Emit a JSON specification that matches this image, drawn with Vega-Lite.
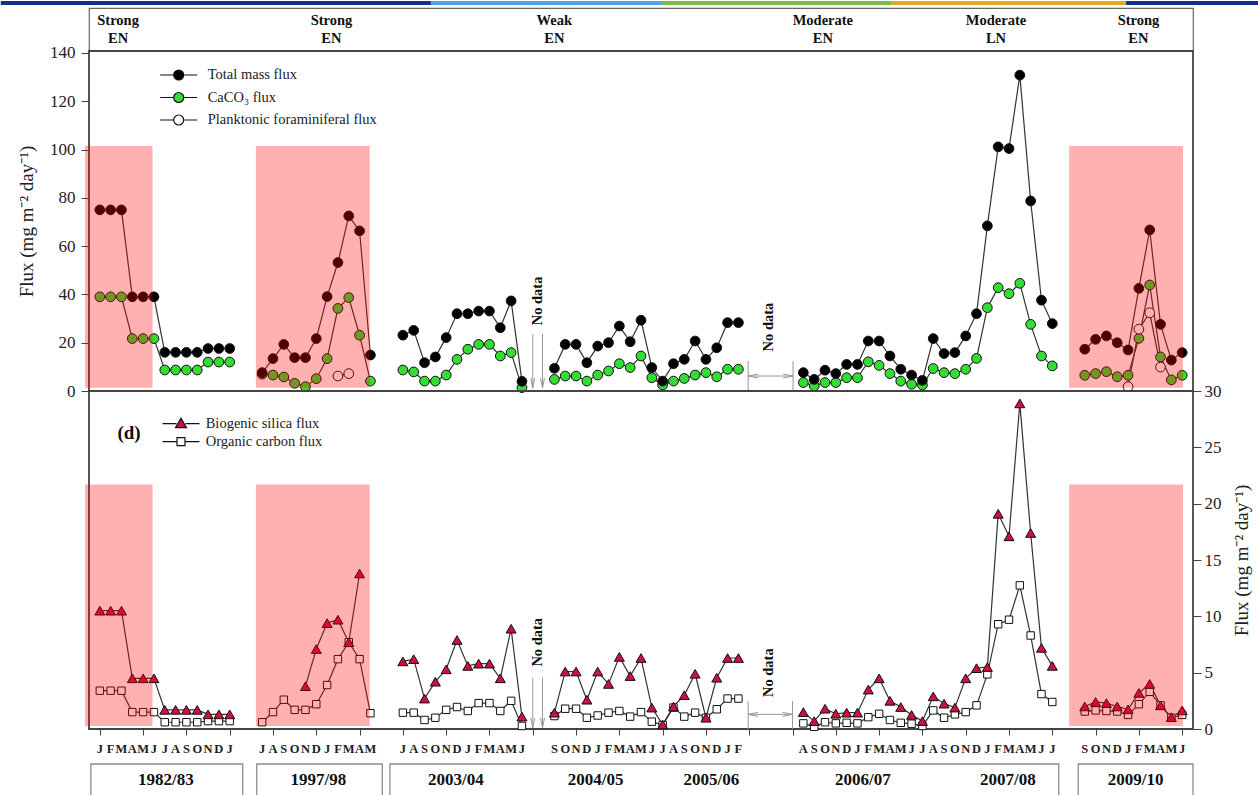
{
 "$schema": "https://vega.github.io/schema/vega-lite/v6.json",
 "background": "white",
 "padding": {"left": 0, "top": 0, "right": 0, "bottom": 0},
 "spacing": 0,
 "bounds": "flush",
 "resolve": {"scale": {"fill": "independent", "shape": "independent", "size": "independent", "color": "independent"}, "legend": {"fill": "independent", "shape": "independent", "size": "independent", "color": "independent"}},
 "config": {"view": {"stroke": null}, "font": "Liberation Serif"},
 "datasets": {
  "top": [
   {"s":"CaCO₃ flux","x":0,"v":39,"g":1},{"s":"CaCO₃ flux","x":1,"v":39,"g":1},{"s":"CaCO₃ flux","x":2,"v":39,"g":1},{"s":"CaCO₃ flux","x":3,"v":21.7,"g":1},{"s":"CaCO₃ flux","x":4,"v":21.7,"g":1},{"s":"CaCO₃ flux","x":5,"v":21.7,"g":1},{"s":"CaCO₃ flux","x":6,"v":8.7,"g":1},{"s":"CaCO₃ flux","x":7,"v":8.7,"g":1},{"s":"CaCO₃ flux","x":8,"v":8.7,"g":1},{"s":"CaCO₃ flux","x":9,"v":8.7,"g":1},{"s":"CaCO₃ flux","x":10,"v":12,"g":1},{"s":"CaCO₃ flux","x":11,"v":12,"g":1},{"s":"CaCO₃ flux","x":12,"v":12,"g":1},
   {"s":"CaCO₃ flux","x":15,"v":7.0,"g":2},{"s":"CaCO₃ flux","x":16,"v":6.6,"g":2},{"s":"CaCO₃ flux","x":17,"v":5.8,"g":2},{"s":"CaCO₃ flux","x":18,"v":3.2,"g":2},{"s":"CaCO₃ flux","x":19,"v":1.8,"g":2},{"s":"CaCO₃ flux","x":20,"v":5.1,"g":2},{"s":"CaCO₃ flux","x":21,"v":13.4,"g":2},{"s":"CaCO₃ flux","x":22,"v":34.2,"g":2},{"s":"CaCO₃ flux","x":23,"v":38.7,"g":2},{"s":"CaCO₃ flux","x":24,"v":23.1,"g":2},{"s":"CaCO₃ flux","x":25,"v":4.1,"g":2},
   {"s":"CaCO₃ flux","x":28,"v":8.7,"g":3},{"s":"CaCO₃ flux","x":29,"v":7.9,"g":3},{"s":"CaCO₃ flux","x":30,"v":4.1,"g":3},{"s":"CaCO₃ flux","x":31,"v":4.1,"g":3},{"s":"CaCO₃ flux","x":32,"v":6.6,"g":3},{"s":"CaCO₃ flux","x":33,"v":13.1,"g":3},{"s":"CaCO₃ flux","x":34,"v":17.3,"g":3},{"s":"CaCO₃ flux","x":35,"v":19.3,"g":3},{"s":"CaCO₃ flux","x":36,"v":19.3,"g":3},{"s":"CaCO₃ flux","x":37,"v":14.5,"g":3},{"s":"CaCO₃ flux","x":38,"v":15.9,"g":3},{"s":"CaCO₃ flux","x":39,"v":1.4,"g":3},
   {"s":"CaCO₃ flux","x":42,"v":4.8,"g":4},{"s":"CaCO₃ flux","x":43,"v":6.2,"g":4},{"s":"CaCO₃ flux","x":44,"v":6.2,"g":4},{"s":"CaCO₃ flux","x":45,"v":4.1,"g":4},{"s":"CaCO₃ flux","x":46,"v":6.6,"g":4},{"s":"CaCO₃ flux","x":47,"v":8.3,"g":4},{"s":"CaCO₃ flux","x":48,"v":11.3,"g":4},{"s":"CaCO₃ flux","x":49,"v":9.7,"g":4},{"s":"CaCO₃ flux","x":50,"v":14.5,"g":4},{"s":"CaCO₃ flux","x":51,"v":5.5,"g":4},{"s":"CaCO₃ flux","x":52,"v":2.5,"g":4},{"s":"CaCO₃ flux","x":53,"v":4.1,"g":4},{"s":"CaCO₃ flux","x":54,"v":5.2,"g":4},{"s":"CaCO₃ flux","x":55,"v":6.6,"g":4},{"s":"CaCO₃ flux","x":56,"v":7.6,"g":4},{"s":"CaCO₃ flux","x":57,"v":5.9,"g":4},{"s":"CaCO₃ flux","x":58,"v":9.0,"g":4},{"s":"CaCO₃ flux","x":59,"v":9.0,"g":4},
   {"s":"CaCO₃ flux","x":65,"v":3.5,"g":5},{"s":"CaCO₃ flux","x":66,"v":2.1,"g":5},{"s":"CaCO₃ flux","x":67,"v":3.5,"g":5},{"s":"CaCO₃ flux","x":68,"v":3.5,"g":5},{"s":"CaCO₃ flux","x":69,"v":5.5,"g":5},{"s":"CaCO₃ flux","x":70,"v":5.5,"g":5},{"s":"CaCO₃ flux","x":71,"v":12.1,"g":5},{"s":"CaCO₃ flux","x":72,"v":10.6,"g":5},{"s":"CaCO₃ flux","x":73,"v":7.2,"g":5},{"s":"CaCO₃ flux","x":74,"v":4.1,"g":5},{"s":"CaCO₃ flux","x":75,"v":2.8,"g":5},{"s":"CaCO₃ flux","x":76,"v":2.5,"g":5},{"s":"CaCO₃ flux","x":77,"v":9.3,"g":5},{"s":"CaCO₃ flux","x":78,"v":7.6,"g":5},{"s":"CaCO₃ flux","x":79,"v":7.2,"g":5},{"s":"CaCO₃ flux","x":80,"v":9.0,"g":5},{"s":"CaCO₃ flux","x":81,"v":13.5,"g":5},{"s":"CaCO₃ flux","x":82,"v":34.5,"g":5},{"s":"CaCO₃ flux","x":83,"v":42.8,"g":5},{"s":"CaCO₃ flux","x":84,"v":40.3,"g":5},{"s":"CaCO₃ flux","x":85,"v":44.6,"g":5},{"s":"CaCO₃ flux","x":86,"v":27.6,"g":5},{"s":"CaCO₃ flux","x":87,"v":14.5,"g":5},{"s":"CaCO₃ flux","x":88,"v":10.4,"g":5},
   {"s":"CaCO₃ flux","x":91,"v":6.5,"g":6},{"s":"CaCO₃ flux","x":92,"v":7.2,"g":6},{"s":"CaCO₃ flux","x":93,"v":8.0,"g":6},{"s":"CaCO₃ flux","x":94,"v":5.9,"g":6},{"s":"CaCO₃ flux","x":95,"v":6.5,"g":6},{"s":"CaCO₃ flux","x":96,"v":21.8,"g":6},{"s":"CaCO₃ flux","x":97,"v":43.9,"g":6},{"s":"CaCO₃ flux","x":98,"v":14.1,"g":6},{"s":"CaCO₃ flux","x":99,"v":4.6,"g":6},{"s":"CaCO₃ flux","x":100,"v":6.5,"g":6},
   {"s":"Total mass flux","x":0,"v":75,"g":1},{"s":"Total mass flux","x":1,"v":75,"g":1},{"s":"Total mass flux","x":2,"v":75,"g":1},{"s":"Total mass flux","x":3,"v":39,"g":1},{"s":"Total mass flux","x":4,"v":39,"g":1},{"s":"Total mass flux","x":5,"v":39,"g":1},{"s":"Total mass flux","x":6,"v":16,"g":1},{"s":"Total mass flux","x":7,"v":16,"g":1},{"s":"Total mass flux","x":8,"v":16,"g":1},{"s":"Total mass flux","x":9,"v":16,"g":1},{"s":"Total mass flux","x":10,"v":17.6,"g":1},{"s":"Total mass flux","x":11,"v":17.6,"g":1},{"s":"Total mass flux","x":12,"v":17.6,"g":1},
   {"s":"Total mass flux","x":15,"v":7.6,"g":2},{"s":"Total mass flux","x":16,"v":13.4,"g":2},{"s":"Total mass flux","x":17,"v":19.3,"g":2},{"s":"Total mass flux","x":18,"v":13.8,"g":2},{"s":"Total mass flux","x":19,"v":13.8,"g":2},{"s":"Total mass flux","x":20,"v":21.7,"g":2},{"s":"Total mass flux","x":21,"v":39.1,"g":2},{"s":"Total mass flux","x":22,"v":53.2,"g":2},{"s":"Total mass flux","x":23,"v":72.5,"g":2},{"s":"Total mass flux","x":24,"v":66.3,"g":2},{"s":"Total mass flux","x":25,"v":14.9,"g":2},
   {"s":"Total mass flux","x":28,"v":23.1,"g":3},{"s":"Total mass flux","x":29,"v":25.1,"g":3},{"s":"Total mass flux","x":30,"v":11.7,"g":3},{"s":"Total mass flux","x":31,"v":14.1,"g":3},{"s":"Total mass flux","x":32,"v":22.1,"g":3},{"s":"Total mass flux","x":33,"v":32,"g":3},{"s":"Total mass flux","x":34,"v":32,"g":3},{"s":"Total mass flux","x":35,"v":33.1,"g":3},{"s":"Total mass flux","x":36,"v":33.1,"g":3},{"s":"Total mass flux","x":37,"v":26.2,"g":3},{"s":"Total mass flux","x":38,"v":37.3,"g":3},{"s":"Total mass flux","x":39,"v":4.0,"g":3},
   {"s":"Total mass flux","x":42,"v":9.4,"g":4},{"s":"Total mass flux","x":43,"v":19.3,"g":4},{"s":"Total mass flux","x":44,"v":19.3,"g":4},{"s":"Total mass flux","x":45,"v":11.7,"g":4},{"s":"Total mass flux","x":46,"v":18.6,"g":4},{"s":"Total mass flux","x":47,"v":20,"g":4},{"s":"Total mass flux","x":48,"v":26.9,"g":4},{"s":"Total mass flux","x":49,"v":20.4,"g":4},{"s":"Total mass flux","x":50,"v":29.3,"g":4},{"s":"Total mass flux","x":51,"v":9.7,"g":4},{"s":"Total mass flux","x":52,"v":4.1,"g":4},{"s":"Total mass flux","x":53,"v":11.3,"g":4},{"s":"Total mass flux","x":54,"v":13.1,"g":4},{"s":"Total mass flux","x":55,"v":20.7,"g":4},{"s":"Total mass flux","x":56,"v":13.1,"g":4},{"s":"Total mass flux","x":57,"v":17.9,"g":4},{"s":"Total mass flux","x":58,"v":28.3,"g":4},{"s":"Total mass flux","x":59,"v":28.3,"g":4},
   {"s":"Total mass flux","x":65,"v":7.6,"g":5},{"s":"Total mass flux","x":66,"v":4.8,"g":5},{"s":"Total mass flux","x":67,"v":8.6,"g":5},{"s":"Total mass flux","x":68,"v":7.2,"g":5},{"s":"Total mass flux","x":69,"v":11,"g":5},{"s":"Total mass flux","x":70,"v":11,"g":5},{"s":"Total mass flux","x":71,"v":20.7,"g":5},{"s":"Total mass flux","x":72,"v":20.7,"g":5},{"s":"Total mass flux","x":73,"v":14.5,"g":5},{"s":"Total mass flux","x":74,"v":9,"g":5},{"s":"Total mass flux","x":75,"v":6.6,"g":5},{"s":"Total mass flux","x":76,"v":4.4,"g":5},{"s":"Total mass flux","x":77,"v":21.7,"g":5},{"s":"Total mass flux","x":78,"v":15.5,"g":5},{"s":"Total mass flux","x":79,"v":15.9,"g":5},{"s":"Total mass flux","x":80,"v":22.8,"g":5},{"s":"Total mass flux","x":81,"v":32,"g":5},{"s":"Total mass flux","x":82,"v":68.4,"g":5},{"s":"Total mass flux","x":83,"v":101.1,"g":5},{"s":"Total mass flux","x":84,"v":100.4,"g":5},{"s":"Total mass flux","x":85,"v":130.8,"g":5},{"s":"Total mass flux","x":86,"v":78.7,"g":5},{"s":"Total mass flux","x":87,"v":37.6,"g":5},{"s":"Total mass flux","x":88,"v":27.9,"g":5},
   {"s":"Total mass flux","x":91,"v":17.3,"g":6},{"s":"Total mass flux","x":92,"v":21.4,"g":6},{"s":"Total mass flux","x":93,"v":22.8,"g":6},{"s":"Total mass flux","x":94,"v":20,"g":6},{"s":"Total mass flux","x":95,"v":17,"g":6},{"s":"Total mass flux","x":96,"v":42.5,"g":6},{"s":"Total mass flux","x":97,"v":66.7,"g":6},{"s":"Total mass flux","x":98,"v":27.6,"g":6},{"s":"Total mass flux","x":99,"v":12.8,"g":6},{"s":"Total mass flux","x":100,"v":15.9,"g":6},
   {"s":"Planktonic foraminiferal flux","x":22,"v":6.2,"g":2},{"s":"Planktonic foraminiferal flux","x":23,"v":7.2,"g":2},
   {"s":"Planktonic foraminiferal flux","x":95,"v":1.8,"g":6},{"s":"Planktonic foraminiferal flux","x":96,"v":25.6,"g":6},{"s":"Planktonic foraminiferal flux","x":97,"v":32.4,"g":6},{"s":"Planktonic foraminiferal flux","x":98,"v":9.9,"g":6}
  ],
  "bot": [
   {"s":"Organic carbon flux","x":0,"v":3.4,"g":1},{"s":"Organic carbon flux","x":1,"v":3.4,"g":1},{"s":"Organic carbon flux","x":2,"v":3.4,"g":1},{"s":"Organic carbon flux","x":3,"v":1.5,"g":1},{"s":"Organic carbon flux","x":4,"v":1.5,"g":1},{"s":"Organic carbon flux","x":5,"v":1.5,"g":1},{"s":"Organic carbon flux","x":6,"v":0.6,"g":1},{"s":"Organic carbon flux","x":7,"v":0.6,"g":1},{"s":"Organic carbon flux","x":8,"v":0.6,"g":1},{"s":"Organic carbon flux","x":9,"v":0.6,"g":1},{"s":"Organic carbon flux","x":10,"v":0.7,"g":1},{"s":"Organic carbon flux","x":11,"v":0.7,"g":1},{"s":"Organic carbon flux","x":12,"v":0.7,"g":1},
   {"s":"Organic carbon flux","x":15,"v":0.6,"g":2},{"s":"Organic carbon flux","x":16,"v":1.5,"g":2},{"s":"Organic carbon flux","x":17,"v":2.6,"g":2},{"s":"Organic carbon flux","x":18,"v":1.7,"g":2},{"s":"Organic carbon flux","x":19,"v":1.7,"g":2},{"s":"Organic carbon flux","x":20,"v":2.2,"g":2},{"s":"Organic carbon flux","x":21,"v":3.9,"g":2},{"s":"Organic carbon flux","x":22,"v":6.2,"g":2},{"s":"Organic carbon flux","x":23,"v":7.7,"g":2},{"s":"Organic carbon flux","x":24,"v":6.2,"g":2},{"s":"Organic carbon flux","x":25,"v":1.4,"g":2},
   {"s":"Organic carbon flux","x":28,"v":1.45,"g":3},{"s":"Organic carbon flux","x":29,"v":1.45,"g":3},{"s":"Organic carbon flux","x":30,"v":0.8,"g":3},{"s":"Organic carbon flux","x":31,"v":1.0,"g":3},{"s":"Organic carbon flux","x":32,"v":1.7,"g":3},{"s":"Organic carbon flux","x":33,"v":1.95,"g":3},{"s":"Organic carbon flux","x":34,"v":1.6,"g":3},{"s":"Organic carbon flux","x":35,"v":2.3,"g":3},{"s":"Organic carbon flux","x":36,"v":2.3,"g":3},{"s":"Organic carbon flux","x":37,"v":1.6,"g":3},{"s":"Organic carbon flux","x":38,"v":2.5,"g":3},{"s":"Organic carbon flux","x":39,"v":0.27,"g":3},
   {"s":"Organic carbon flux","x":42,"v":1.15,"g":4},{"s":"Organic carbon flux","x":43,"v":1.8,"g":4},{"s":"Organic carbon flux","x":44,"v":1.8,"g":4},{"s":"Organic carbon flux","x":45,"v":1.0,"g":4},{"s":"Organic carbon flux","x":46,"v":1.2,"g":4},{"s":"Organic carbon flux","x":47,"v":1.45,"g":4},{"s":"Organic carbon flux","x":48,"v":1.6,"g":4},{"s":"Organic carbon flux","x":49,"v":1.1,"g":4},{"s":"Organic carbon flux","x":50,"v":1.5,"g":4},{"s":"Organic carbon flux","x":51,"v":0.65,"g":4},{"s":"Organic carbon flux","x":52,"v":0.35,"g":4},{"s":"Organic carbon flux","x":53,"v":1.9,"g":4},{"s":"Organic carbon flux","x":54,"v":1.1,"g":4},{"s":"Organic carbon flux","x":55,"v":1.45,"g":4},{"s":"Organic carbon flux","x":56,"v":1.0,"g":4},{"s":"Organic carbon flux","x":57,"v":1.75,"g":4},{"s":"Organic carbon flux","x":58,"v":2.7,"g":4},{"s":"Organic carbon flux","x":59,"v":2.7,"g":4},
   {"s":"Organic carbon flux","x":65,"v":0.5,"g":5},{"s":"Organic carbon flux","x":66,"v":0.2,"g":5},{"s":"Organic carbon flux","x":67,"v":0.6,"g":5},{"s":"Organic carbon flux","x":68,"v":0.5,"g":5},{"s":"Organic carbon flux","x":69,"v":0.55,"g":5},{"s":"Organic carbon flux","x":70,"v":0.5,"g":5},{"s":"Organic carbon flux","x":71,"v":1.05,"g":5},{"s":"Organic carbon flux","x":72,"v":1.35,"g":5},{"s":"Organic carbon flux","x":73,"v":0.8,"g":5},{"s":"Organic carbon flux","x":74,"v":0.55,"g":5},{"s":"Organic carbon flux","x":75,"v":0.47,"g":5},{"s":"Organic carbon flux","x":76,"v":0.27,"g":5},{"s":"Organic carbon flux","x":77,"v":1.65,"g":5},{"s":"Organic carbon flux","x":78,"v":1.0,"g":5},{"s":"Organic carbon flux","x":79,"v":1.3,"g":5},{"s":"Organic carbon flux","x":80,"v":1.5,"g":5},{"s":"Organic carbon flux","x":81,"v":2.1,"g":5},{"s":"Organic carbon flux","x":82,"v":4.85,"g":5},{"s":"Organic carbon flux","x":83,"v":9.3,"g":5},{"s":"Organic carbon flux","x":84,"v":9.7,"g":5},{"s":"Organic carbon flux","x":85,"v":12.75,"g":5},{"s":"Organic carbon flux","x":86,"v":8.3,"g":5},{"s":"Organic carbon flux","x":87,"v":3.1,"g":5},{"s":"Organic carbon flux","x":88,"v":2.4,"g":5},
   {"s":"Organic carbon flux","x":91,"v":1.55,"g":6},{"s":"Organic carbon flux","x":92,"v":1.65,"g":6},{"s":"Organic carbon flux","x":93,"v":1.6,"g":6},{"s":"Organic carbon flux","x":94,"v":1.55,"g":6},{"s":"Organic carbon flux","x":95,"v":1.25,"g":6},{"s":"Organic carbon flux","x":96,"v":2.2,"g":6},{"s":"Organic carbon flux","x":97,"v":3.3,"g":6},{"s":"Organic carbon flux","x":98,"v":2.1,"g":6},{"s":"Organic carbon flux","x":99,"v":1.0,"g":6},{"s":"Organic carbon flux","x":100,"v":1.25,"g":6},
   {"s":"Biogenic silica flux","x":0,"v":10.5,"g":1},{"s":"Biogenic silica flux","x":1,"v":10.5,"g":1},{"s":"Biogenic silica flux","x":2,"v":10.5,"g":1},{"s":"Biogenic silica flux","x":3,"v":4.5,"g":1},{"s":"Biogenic silica flux","x":4,"v":4.5,"g":1},{"s":"Biogenic silica flux","x":5,"v":4.5,"g":1},{"s":"Biogenic silica flux","x":6,"v":1.7,"g":1},{"s":"Biogenic silica flux","x":7,"v":1.7,"g":1},{"s":"Biogenic silica flux","x":8,"v":1.7,"g":1},{"s":"Biogenic silica flux","x":9,"v":1.7,"g":1},{"s":"Biogenic silica flux","x":10,"v":1.3,"g":1},{"s":"Biogenic silica flux","x":11,"v":1.3,"g":1},{"s":"Biogenic silica flux","x":12,"v":1.3,"g":1},
   {"s":"Biogenic silica flux","x":19,"v":3.8,"g":2},{"s":"Biogenic silica flux","x":20,"v":7.1,"g":2},{"s":"Biogenic silica flux","x":21,"v":9.4,"g":2},{"s":"Biogenic silica flux","x":22,"v":9.7,"g":2},{"s":"Biogenic silica flux","x":23,"v":7.7,"g":2},{"s":"Biogenic silica flux","x":24,"v":13.8,"g":2},
   {"s":"Biogenic silica flux","x":28,"v":6.0,"g":3},{"s":"Biogenic silica flux","x":29,"v":6.2,"g":3},{"s":"Biogenic silica flux","x":30,"v":2.7,"g":3},{"s":"Biogenic silica flux","x":31,"v":4.2,"g":3},{"s":"Biogenic silica flux","x":32,"v":5.3,"g":3},{"s":"Biogenic silica flux","x":33,"v":7.9,"g":3},{"s":"Biogenic silica flux","x":34,"v":5.6,"g":3},{"s":"Biogenic silica flux","x":35,"v":5.8,"g":3},{"s":"Biogenic silica flux","x":36,"v":5.8,"g":3},{"s":"Biogenic silica flux","x":37,"v":4.5,"g":3},{"s":"Biogenic silica flux","x":38,"v":8.9,"g":3},{"s":"Biogenic silica flux","x":39,"v":1.1,"g":3},
   {"s":"Biogenic silica flux","x":42,"v":1.45,"g":4},{"s":"Biogenic silica flux","x":43,"v":5.1,"g":4},{"s":"Biogenic silica flux","x":44,"v":5.1,"g":4},{"s":"Biogenic silica flux","x":45,"v":2.6,"g":4},{"s":"Biogenic silica flux","x":46,"v":5.1,"g":4},{"s":"Biogenic silica flux","x":47,"v":4.0,"g":4},{"s":"Biogenic silica flux","x":48,"v":6.4,"g":4},{"s":"Biogenic silica flux","x":49,"v":4.7,"g":4},{"s":"Biogenic silica flux","x":50,"v":6.3,"g":4},{"s":"Biogenic silica flux","x":51,"v":1.9,"g":4},{"s":"Biogenic silica flux","x":52,"v":0.4,"g":4},{"s":"Biogenic silica flux","x":53,"v":2.0,"g":4},{"s":"Biogenic silica flux","x":54,"v":3.0,"g":4},{"s":"Biogenic silica flux","x":55,"v":4.9,"g":4},{"s":"Biogenic silica flux","x":56,"v":1.0,"g":4},{"s":"Biogenic silica flux","x":57,"v":4.55,"g":4},{"s":"Biogenic silica flux","x":58,"v":6.3,"g":4},{"s":"Biogenic silica flux","x":59,"v":6.3,"g":4},
   {"s":"Biogenic silica flux","x":65,"v":1.5,"g":5},{"s":"Biogenic silica flux","x":66,"v":0.7,"g":5},{"s":"Biogenic silica flux","x":67,"v":1.8,"g":5},{"s":"Biogenic silica flux","x":68,"v":1.35,"g":5},{"s":"Biogenic silica flux","x":69,"v":1.45,"g":5},{"s":"Biogenic silica flux","x":70,"v":1.45,"g":5},{"s":"Biogenic silica flux","x":71,"v":3.5,"g":5},{"s":"Biogenic silica flux","x":72,"v":4.5,"g":5},{"s":"Biogenic silica flux","x":73,"v":2.5,"g":5},{"s":"Biogenic silica flux","x":74,"v":1.95,"g":5},{"s":"Biogenic silica flux","x":75,"v":1.25,"g":5},{"s":"Biogenic silica flux","x":76,"v":0.7,"g":5},{"s":"Biogenic silica flux","x":77,"v":2.9,"g":5},{"s":"Biogenic silica flux","x":78,"v":2.25,"g":5},{"s":"Biogenic silica flux","x":79,"v":1.9,"g":5},{"s":"Biogenic silica flux","x":80,"v":4.5,"g":5},{"s":"Biogenic silica flux","x":81,"v":5.4,"g":5},{"s":"Biogenic silica flux","x":82,"v":5.5,"g":5},{"s":"Biogenic silica flux","x":83,"v":19.1,"g":5},{"s":"Biogenic silica flux","x":84,"v":17.1,"g":5},{"s":"Biogenic silica flux","x":85,"v":28.9,"g":5},{"s":"Biogenic silica flux","x":86,"v":17.4,"g":5},{"s":"Biogenic silica flux","x":87,"v":7.2,"g":5},{"s":"Biogenic silica flux","x":88,"v":5.6,"g":5},
   {"s":"Biogenic silica flux","x":91,"v":2.0,"g":6},{"s":"Biogenic silica flux","x":92,"v":2.4,"g":6},{"s":"Biogenic silica flux","x":93,"v":2.3,"g":6},{"s":"Biogenic silica flux","x":94,"v":2.0,"g":6},{"s":"Biogenic silica flux","x":95,"v":1.75,"g":6},{"s":"Biogenic silica flux","x":96,"v":3.2,"g":6},{"s":"Biogenic silica flux","x":97,"v":4.0,"g":6},{"s":"Biogenic silica flux","x":98,"v":2.1,"g":6},{"s":"Biogenic silica flux","x":99,"v":1.05,"g":6},{"s":"Biogenic silica flux","x":100,"v":1.65,"g":6}
  ],
  "pinkTop": [{"x":-1.37,"x2":4.87,"v":1.3,"v2":101.5},{"x":14.42,"x2":24.93,"v":1.3,"v2":101.5},{"x":89.56,"x2":100.07,"v":1.3,"v2":101.5}],
  "pinkBot": [{"x":-1.37,"x2":4.87,"v":0.27,"v2":21.7},{"x":14.42,"x2":24.93,"v":0.27,"v2":21.7},{"x":89.56,"x2":100.07,"v":0.27,"v2":21.7}],
  "stripe": [{"x":-9.15,"x2":30.59,"seg":"a"},{"x":30.59,"x2":51.85,"seg":"b"},{"x":51.85,"x2":73.1,"seg":"c"},{"x":73.1,"x2":94.82,"seg":"d"},{"x":94.82,"x2":107.1,"seg":"e"}],
  "enso": [{"x":1.69,"label":"Strong\nEN"},{"x":21.4,"label":"Strong\nEN"},{"x":41.99,"label":"Weak\nEN"},{"x":66.8,"label":"Moderate\nEN"},{"x":82.8,"label":"Moderate\nLN"},{"x":95.96,"label":"Strong\nEN"}],
  "months": [
   {"x":0,"m":"J"},{"x":1,"m":"F"},{"x":2,"m":"M"},{"x":3,"m":"A"},{"x":4,"m":"M"},{"x":5,"m":"J"},{"x":6,"m":"J"},{"x":7,"m":"A"},{"x":8,"m":"S"},{"x":9,"m":"O"},{"x":10,"m":"N"},{"x":11,"m":"D"},{"x":12,"m":"J"},
   {"x":15,"m":"J"},{"x":16,"m":"A"},{"x":17,"m":"S"},{"x":18,"m":"O"},{"x":19,"m":"N"},{"x":20,"m":"D"},{"x":21,"m":"J"},{"x":22,"m":"F"},{"x":23,"m":"M"},{"x":24,"m":"A"},{"x":25,"m":"M"},
   {"x":28,"m":"J"},{"x":29,"m":"A"},{"x":30,"m":"S"},{"x":31,"m":"O"},{"x":32,"m":"N"},{"x":33,"m":"D"},{"x":34,"m":"J"},{"x":35,"m":"F"},{"x":36,"m":"M"},{"x":37,"m":"A"},{"x":38,"m":"M"},{"x":39,"m":"J"},
   {"x":42,"m":"S"},{"x":43,"m":"O"},{"x":44,"m":"N"},{"x":45,"m":"D"},{"x":46,"m":"J"},{"x":47,"m":"F"},{"x":48,"m":"M"},{"x":49,"m":"A"},{"x":50,"m":"M"},{"x":51,"m":"J"},{"x":52,"m":"J"},{"x":53,"m":"A"},{"x":54,"m":"S"},{"x":55,"m":"O"},{"x":56,"m":"N"},{"x":57,"m":"D"},{"x":58,"m":"J"},{"x":59,"m":"F"},
   {"x":65,"m":"A"},{"x":66,"m":"S"},{"x":67,"m":"O"},{"x":68,"m":"N"},{"x":69,"m":"D"},{"x":70,"m":"J"},{"x":71,"m":"F"},{"x":72,"m":"M"},{"x":73,"m":"A"},{"x":74,"m":"M"},{"x":75,"m":"J"},{"x":76,"m":"J"},{"x":77,"m":"A"},{"x":78,"m":"S"},{"x":79,"m":"O"},{"x":80,"m":"N"},{"x":81,"m":"D"},{"x":82,"m":"J"},{"x":83,"m":"F"},{"x":84,"m":"M"},{"x":85,"m":"A"},{"x":86,"m":"M"},{"x":87,"m":"J"},{"x":88,"m":"J"},
   {"x":91,"m":"S"},{"x":92,"m":"O"},{"x":93,"m":"N"},{"x":94,"m":"D"},{"x":95,"m":"J"},{"x":96,"m":"F"},{"x":97,"m":"M"},{"x":98,"m":"A"},{"x":99,"m":"M"},{"x":100,"m":"J"}
  ],
  "years": [{"x":6.1,"t":"1982/83"},{"x":20.2,"t":"1997/98"},{"x":32.9,"t":"2003/04"},{"x":45.8,"t":"2004/05"},{"x":56.5,"t":"2005/06"},{"x":70.5,"t":"2006/07"},{"x":83.9,"t":"2007/08"},{"x":95.7,"t":"2009/10"}],
  "boxes": [{"x":-0.83,"x2":13.2},{"x":14.5,"x2":26.1},{"x":26.8,"x2":88.6},{"x":90.4,"x2":101}],
  "ndTopText": [{"x":40.45,"v":37.3,"t":"No data"},{"x":61.8,"v":26.5,"t":"No data"}],
  "ndBotText": [{"x":40.45,"v":7.7,"t":"No data"},{"x":61.8,"v":5.0,"t":"No data"}],
  "ndTopRules": [{"x":40.0,"x2":40.0,"v":23.6,"v2":1.2},{"x":40.9,"x2":40.9,"v":23.6,"v2":1.2},{"x":59.9,"x2":64.05,"v":6.2,"v2":6.2},{"x":59.9,"x2":59.9,"v":0,"v2":12.4},{"x":64.05,"x2":64.05,"v":0,"v2":12.4}],
  "ndBotRules": [{"x":40.0,"x2":40.0,"v":4.55,"v2":0.1},{"x":40.9,"x2":40.9,"v":4.55,"v2":0.1},{"x":59.9,"x2":64.0,"v":1.3,"v2":1.3},{"x":59.9,"x2":59.9,"v":0,"v2":2.5},{"x":64.0,"x2":64.0,"v":0,"v2":2.5}],
  "ndTopHeads": [{"x":40.0,"v":1.2,"sh":"M-0.8,-4L0,0L0.8,-4"},{"x":40.9,"v":1.2,"sh":"M-0.8,-4L0,0L0.8,-4"},{"x":59.9,"v":6.2,"sh":"M4,-0.8L0,0L4,0.8"},{"x":64.05,"v":6.2,"sh":"M-4,-0.8L0,0L-4,0.8"}],
  "ndBotHeads": [{"x":40.0,"v":0.1,"sh":"M-0.8,-4L0,0L0.8,-4"},{"x":40.9,"v":0.1,"sh":"M-0.8,-4L0,0L0.8,-4"},{"x":59.9,"v":1.3,"sh":"M4,-0.8L0,0L4,0.8"},{"x":64.0,"v":1.3,"sh":"M-4,-0.8L0,0L-4,0.8"}],
  "labelD": [{"x":2.7,"v":26.3,"t":"(d)"}]
 },
 "vconcat": [
  {
   "width": 1104, "height": 43,
   "view": {"stroke": "#666", "strokeWidth": 1.2},
   "layer": [
    {
     "data": {"name": "stripe"},
     "mark": {"type": "rect"},
     "encoding": {
      "x": {"field": "x", "type": "quantitative", "scale": {"domain": [-1, 101], "nice": false, "zero": false}, "axis": null}, "x2": {"field": "x2"},
      "y": {"datum": 1.163, "type": "quantitative", "scale": {"domain": [0, 1], "nice": false}, "axis": null},
      "y2": {"datum": 1.07},
      "color": {"field": "seg", "type": "nominal", "scale": {"domain": ["a", "b", "c", "d", "e"], "range": ["#12308a", "#4ea5e6", "#7cb84a", "#e6a81e", "#12308a"]}, "legend": null}
     }
    },
    {
     "data": {"name": "enso"},
     "mark": {"type": "text", "fontWeight": "bold", "fontSize": 14.5, "lineBreak": "\n", "lineHeight": 18, "color": "#111", "baseline": "middle", "align": "center"},
     "encoding": {
      "x": {"field": "x", "type": "quantitative", "axis": null},
      "y": {"datum": 0.7, "type": "quantitative", "axis": null},
      "text": {"field": "label"}
     }
    }
   ]
  },
  {
   "width": 1104, "height": 340,
   "view": {"stroke": "#444", "strokeWidth": 1.8},
   "layer": [
    {
     "data": {"name": "top"},
     "mark": {"type": "line", "color": "#333", "strokeWidth": 1.2},
     "encoding": {
      "x": {"field": "x", "type": "quantitative", "scale": {"domain": [-1, 101], "nice": false, "zero": false}, "axis": null},
      "y": {"field": "v", "type": "quantitative", "scale": {"domain": [0, 140.8], "nice": false, "zero": false},
            "axis": {"values": [0,20,40,60,80,100,120,140], "tickSize": 8, "tickColor": "#444", "domain": false, "grid": false, "labelFontSize": 17, "labelPadding": 6, "labelColor": "#222", "title": "Flux (mg m⁻² day⁻¹)", "titleFontSize": 19, "titleFontWeight": "normal", "titleColor": "#222", "titlePadding": 13}},
      "detail": [{"field": "s"}, {"field": "g"}]
     }
    },
    {
     "data": {"name": "top"},
     "mark": {"type": "point", "filled": true, "size": 95, "stroke": "#111", "strokeWidth": 1, "opacity": 1},
     "encoding": {
      "x": {"field": "x", "type": "quantitative", "axis": null},
      "y": {"field": "v", "type": "quantitative"},
      "fill": {"field": "s", "type": "nominal",
        "scale": {"domain": ["Total mass flux", "CaCO₃ flux", "Planktonic foraminiferal flux"], "range": ["#000000", "#33dd33", "#ffffff"]},
        "legend": {"orient": "none", "legendX": 78.7, "legendY": 13, "title": null, "padding": 0,
          "symbolType": "M-1.85,0H-0.5M0.5,0H1.85M0,-0.5A0.5,0.5 0 1,1 0,0.5A0.5,0.5 0 1,1 0,-0.5Z",
          "symbolSize": 400, "symbolStrokeColor": "#111", "symbolStrokeWidth": 1.2, "symbolOpacity": 1,
          "labelFontSize": 14.5, "labelOffset": 18, "labelColor": "#222", "labelLimit": 0, "rowPadding": 3.5}}
     }
    },
    {
     "data": {"name": "pinkTop"},
     "mark": {"type": "rect", "color": "#ff0000", "opacity": 0.31},
     "encoding": {
      "x": {"field": "x", "type": "quantitative", "axis": null}, "x2": {"field": "x2"},
      "y": {"field": "v", "type": "quantitative"}, "y2": {"field": "v2"}
     }
    },
    {
     "data": {"name": "ndTopRules"},
     "mark": {"type": "rule", "color": "#999", "strokeWidth": 1},
     "encoding": {
      "x": {"field": "x", "type": "quantitative", "axis": null}, "x2": {"field": "x2"},
      "y": {"field": "v", "type": "quantitative"}, "y2": {"field": "v2"}
     }
    },
    {
     "data": {"name": "ndTopHeads"},
     "mark": {"type": "point", "filled": false, "stroke": "#999", "strokeWidth": 1, "size": 25, "opacity": 1},
     "encoding": {
      "x": {"field": "x", "type": "quantitative", "axis": null},
      "y": {"field": "v", "type": "quantitative"},
      "shape": {"field": "sh", "type": "nominal", "scale": null}
     }
    },
    {
     "data": {"name": "ndTopText"},
     "mark": {"type": "text", "angle": 270, "fontWeight": "bold", "fontSize": 14.5, "color": "#111", "align": "center", "baseline": "middle"},
     "encoding": {
      "x": {"field": "x", "type": "quantitative", "axis": null},
      "y": {"field": "v", "type": "quantitative"},
      "text": {"field": "t"}
     }
    }
   ]
  },
  {
   "width": 1104, "height": 338,
   "view": {"stroke": "#444", "strokeWidth": 1.8},
   "layer": [
    {
     "data": {"name": "bot"},
     "mark": {"type": "line", "color": "#333", "strokeWidth": 1.2},
     "encoding": {
      "x": {"field": "x", "type": "quantitative", "scale": {"domain": [-1, 101], "nice": false, "zero": false},
            "axis": {"values": [0,1,2,3,4,5,6,7,8,9,10,11,12,13,14,15,16,17,18,19,20,21,22,23,24,25,26,27,28,29,30,31,32,33,34,35,36,37,38,39,40,41,42,43,44,45,46,47,48,49,50,51,52,53,54,55,56,57,58,59,60,61,62,63,64,65,66,67,68,69,70,71,72,73,74,75,76,77,78,79,80,81,82,83,84,85,86,87,88,89,90,91,92,93,94,95,96,97,98,99,100], "labels": false, "tickSize": 6, "tickColor": "#444", "domain": false, "grid": false, "title": null}},
      "y": {"field": "v", "type": "quantitative", "scale": {"domain": [0, 30], "nice": false, "zero": false},
            "axis": {"orient": "right", "values": [0,5,10,15,20,25,30], "tickSize": 8, "tickColor": "#444", "domain": false, "grid": false, "labelFontSize": 17, "labelPadding": 3, "labelColor": "#222", "title": "Flux (mg m⁻² day⁻¹)", "titleAngle": 270, "titleFontSize": 19, "titleFontWeight": "normal", "titleColor": "#222", "titlePadding": 30}},
      "detail": [{"field": "s"}, {"field": "g"}]
     }
    },
    {
     "data": {"name": "bot"},
     "transform": [{"filter": "datum.s === 'Organic carbon flux'"}],
     "mark": {"type": "point", "shape": "square", "size": 55, "filled": true, "stroke": "#111", "strokeWidth": 1, "opacity": 1},
     "encoding": {
      "x": {"field": "x", "type": "quantitative"},
      "y": {"field": "v", "type": "quantitative"},
      "fill": {"field": "s", "type": "nominal",
        "scale": {"domain": ["Biogenic silica flux", "Organic carbon flux"], "range": ["#cc1040", "#ffffff"]},
        "legend": {"orient": "none", "legendX": 81, "legendY": 21.7, "title": null, "padding": 0,
          "symbolSize": 400, "symbolStrokeColor": "#111", "symbolStrokeWidth": 1.2, "symbolOpacity": 1,
          "labelFontSize": 14.5, "labelOffset": 13.7, "labelColor": "#222", "labelLimit": 0, "rowPadding": 0,
          "encode": {"symbols": {"update": {"shape": {"signal": "datum.value === 'Biogenic silica flux' ? 'M-1.85,0H-0.45M0.45,0H1.85M0,-0.55L0.55,0.4L-0.55,0.4Z' : 'M-1.85,0H-0.4M0.4,0H1.85M-0.4,-0.4H0.4V0.4H-0.4Z'"}, "size": {"value": 400}}}}}}
     }
    },
    {
     "data": {"name": "bot"},
     "transform": [{"filter": "datum.s === 'Biogenic silica flux'"}],
     "mark": {"type": "point", "shape": "triangle-up", "size": 100, "filled": true, "stroke": "#111", "strokeWidth": 1, "opacity": 1},
     "encoding": {
      "x": {"field": "x", "type": "quantitative"},
      "y": {"field": "v", "type": "quantitative"},
      "fill": {"field": "s", "type": "nominal",
        "scale": {"domain": ["Biogenic silica flux", "Organic carbon flux"], "range": ["#cc1040", "#ffffff"]},
        "legend": {"orient": "none", "legendX": 81, "legendY": 21.7, "title": null, "padding": 0,
          "symbolSize": 400, "symbolStrokeColor": "#111", "symbolStrokeWidth": 1.2, "symbolOpacity": 1,
          "labelFontSize": 14.5, "labelOffset": 13.7, "labelColor": "#222", "labelLimit": 0, "rowPadding": 0,
          "encode": {"symbols": {"update": {"shape": {"signal": "datum.value === 'Biogenic silica flux' ? 'M-1.85,0H-0.45M0.45,0H1.85M0,-0.55L0.55,0.4L-0.55,0.4Z' : 'M-1.85,0H-0.4M0.4,0H1.85M-0.4,-0.4H0.4V0.4H-0.4Z'"}, "size": {"value": 400}}}}}}
     }
    },
    {
     "data": {"name": "pinkBot"},
     "mark": {"type": "rect", "color": "#ff0000", "opacity": 0.31},
     "encoding": {
      "x": {"field": "x", "type": "quantitative"}, "x2": {"field": "x2"},
      "y": {"field": "v", "type": "quantitative"}, "y2": {"field": "v2"}
     }
    },
    {
     "data": {"name": "ndBotRules"},
     "mark": {"type": "rule", "color": "#999", "strokeWidth": 1},
     "encoding": {
      "x": {"field": "x", "type": "quantitative"}, "x2": {"field": "x2"},
      "y": {"field": "v", "type": "quantitative"}, "y2": {"field": "v2"}
     }
    },
    {
     "data": {"name": "ndBotHeads"},
     "mark": {"type": "point", "filled": false, "stroke": "#999", "strokeWidth": 1, "size": 25, "opacity": 1},
     "encoding": {
      "x": {"field": "x", "type": "quantitative"},
      "y": {"field": "v", "type": "quantitative"},
      "shape": {"field": "sh", "type": "nominal", "scale": null}
     }
    },
    {
     "data": {"name": "ndBotText"},
     "mark": {"type": "text", "angle": 270, "fontWeight": "bold", "fontSize": 14.5, "color": "#111", "align": "center", "baseline": "middle"},
     "encoding": {
      "x": {"field": "x", "type": "quantitative"},
      "y": {"field": "v", "type": "quantitative"},
      "text": {"field": "t"}
     }
    },
    {
     "data": {"name": "labelD"},
     "mark": {"type": "text", "fontWeight": "bold", "fontSize": 19, "color": "#111", "align": "center", "baseline": "middle"},
     "encoding": {
      "x": {"field": "x", "type": "quantitative"},
      "y": {"field": "v", "type": "quantitative"},
      "text": {"field": "t"}
     }
    }
   ]
  },
  {
   "width": 1104, "height": 70,
   "layer": [
    {
     "data": {"name": "boxes"},
     "mark": {"type": "rect", "fill": "white", "stroke": "#8c8c8c", "strokeWidth": 1.3},
     "encoding": {
      "x": {"field": "x", "type": "quantitative", "scale": {"domain": [-1, 101], "nice": false, "zero": false}, "axis": null}, "x2": {"field": "x2"},
      "y": {"datum": 35, "type": "quantitative", "scale": {"domain": [0, 70], "nice": false, "zero": false, "reverse": true}, "axis": null},
      "y2": {"datum": 70}
     }
    },
    {
     "data": {"name": "months"},
     "mark": {"type": "text", "fontWeight": "bold", "fontSize": 12.5, "color": "#222", "align": "center", "baseline": "middle"},
     "encoding": {
      "x": {"field": "x", "type": "quantitative", "axis": null},
      "y": {"datum": 20, "type": "quantitative", "axis": null},
      "text": {"field": "m"}
     }
    },
    {
     "data": {"name": "years"},
     "mark": {"type": "text", "fontWeight": "bold", "fontSize": 17, "color": "#111", "align": "center", "baseline": "middle"},
     "encoding": {
      "x": {"field": "x", "type": "quantitative", "axis": null},
      "y": {"datum": 51, "type": "quantitative", "axis": null},
      "text": {"field": "t"}
     }
    }
   ]
  }
 ]
}
